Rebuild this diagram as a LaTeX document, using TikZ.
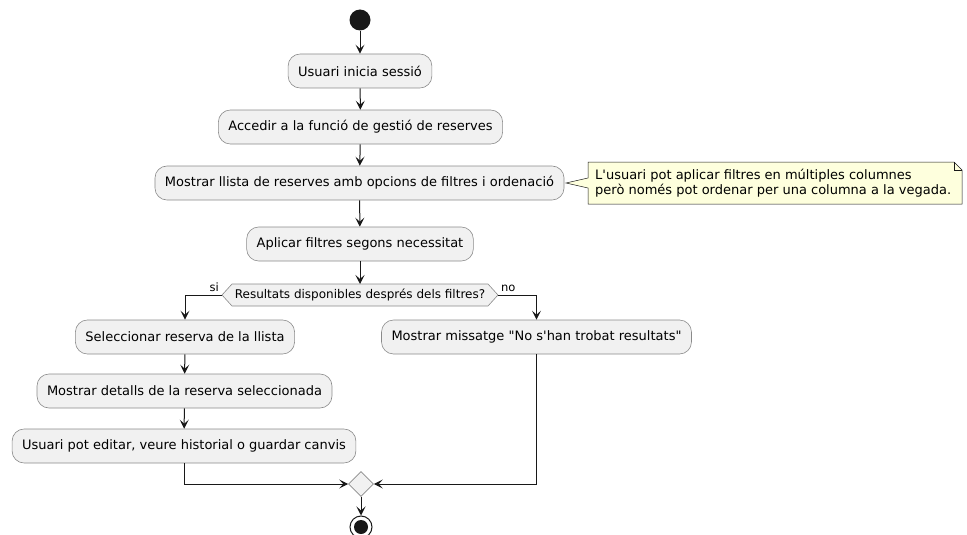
\documentclass[tikz,border=0pt]{standalone}
\usepackage{fontspec}
\setmainfont{DejaVu Sans}[Ligatures=TeXOff]
\usetikzlibrary{arrows.meta,shapes.geometric,calc}
\definecolor{actfill}{HTML}{F1F1F1}
\definecolor{lineclr}{HTML}{181818}
\definecolor{edgeclr}{HTML}{8A8A8A}
\definecolor{notefill}{HTML}{FEFFDD}
\tikzset{
  act/.style={draw=edgeclr, fill=actfill, line width=0.6pt, rounded corners=12pt,
    minimum height=34pt, inner xsep=10pt, font=\fontsize{13}{15}\selectfont},
  flow/.style={draw=lineclr, line width=1pt,
    -{Stealth[length=9pt,width=9pt,inset=4pt]}},
  lbl/.style={font=\fontsize{11.5}{13}\selectfont, inner sep=1pt},
  notetext/.style={font=\fontsize{13}{15}\selectfont, align=left, inner sep=0pt, anchor=west},
  mergebox/.style={diamond, draw=edgeclr, fill=actfill, line width=0.6pt,
    minimum size=25pt, inner sep=0pt}
}
\begin{document}
\begin{tikzpicture}[x=1pt,y=-1pt]
\useasboundingbox (0,0) rectangle (967,535);

% start and actions
\node[circle, fill=lineclr, minimum size=21pt, inner sep=0pt] (start) at (360,20) {};
\node[act] (b1) at (360,71) {Usuari inicia sessió};
\node[act] (b2) at (360.5,127) {Accedir a la funció de gestió de reserves};
\node[act] (b3) at (359.5,183) {Mostrar llista de reserves amb opcions de filtres i ordenació};
\node[act] (b4) at (360,244) {Aplicar filtres segons necessitat};

% decision hexagon
\coordinate (dl) at (222,295);
\coordinate (dr) at (498,295);
\coordinate (dt) at (360,284);
\draw[draw=edgeclr, fill=actfill, line width=0.6pt]
  (dl) -- (232,284) -- (488,284) -- (dr) -- (488,306) -- (232,306) -- cycle;
\node[font=\fontsize{12}{14}\selectfont] (dtext) at (360,295) {Resultats disponibles després dels filtres?};

% branches
\node[act] (b5) at (185,337) {Seleccionar reserva de la llista};
\node[act] (b6) at (536.5,337) {Mostrar missatge "No s'han trobat resultats"};
\node[act] (b7) at (184.5,391) {Mostrar detalls de la reserva seleccionada};
\node[act] (b8) at (184,446) {Usuari pot editar, veure historial o guardar canvis};

% merge and end
\node[mergebox] (merge) at (361,484) {};
\node[circle, draw=lineclr, line width=1pt, fill=white, minimum size=22pt, inner sep=0pt] (stop) at (361,527) {};
\fill[lineclr] (stop.center) circle (7pt);

% note
\draw[draw=lineclr, fill=notefill, line width=0.5pt]
  (588,162) -- (954,162) -- (962,170) -- (962,204) -- (588,204) -- (588,188)
  -- (566,183) -- (588,178) -- cycle;
\draw[draw=lineclr, line width=0.5pt] (954,162) -- (954,170) -- (962,170);
\node[notetext] (note) at (595,183) {L'usuari pot aplicar filtres en múltiples columnes\\però només pot ordenar per una columna a la vegada.};

% connectors
\draw[flow] (start) -- (b1);
\draw[flow] (b1) -- (b2);
\draw[flow] (b2) -- (b3);
\draw[flow] (b3) -- (b4);
\draw[flow] (b4) -- (dt);
\draw[flow] (dl) -| (b5.north);
\draw[flow] (dr) -| (b6.north);
\draw[flow] (b5) -- (b7);
\draw[flow] (b7) -- (b8);
\draw[flow] (b8.south) |- (merge.west);
\draw[flow] (b6.south) |- (merge.east);
\draw[flow] (merge) -- (stop);

% branch labels
\node[lbl, anchor=south east] (si) at (220,293) {si};
\node[lbl, anchor=south west] (no) at (500,293) {no};
\end{tikzpicture}
\end{document}
